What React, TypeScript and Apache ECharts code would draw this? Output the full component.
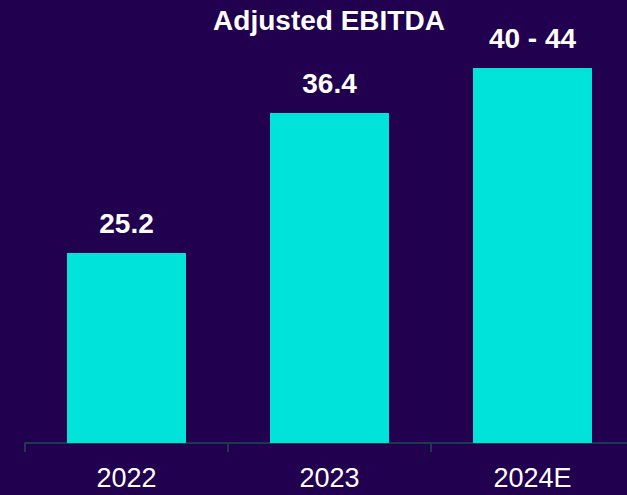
import React, { useEffect, useRef } from "react";
import * as echarts from "echarts";

const categories = ["2022", "2023", "2024E"];
const values = [25.2, 36.4, 40];
const valueLabels = ["25.2", "36.4", "40 - 44"];
const titleText = "Adjusted EBITDA";

export default function App() {
  const ref = useRef<HTMLDivElement>(null);
  useEffect(() => {
    if (!ref.current) return;
    const chart = echarts.init(ref.current, null, { renderer: "svg" });
    const font = "'Liberation Sans', Arial, sans-serif";
    chart.setOption({
      animation: false,
      backgroundColor: "#210050",
      graphic: [
        {
          type: "text",
          x: 329,
          y: 20,
          style: {
            text: titleText,
            fill: "#ffffff",
            font: `bold 28px ${font}`,
            textAlign: "center",
            textVerticalAlign: "middle",
          },
        },
      ],
      grid: { left: 25, right: 0, top: 43, bottom: 52, containLabel: false },
      xAxis: {
        type: "category",
        data: categories,
        axisLine: { show: true, lineStyle: { color: "#1c3a4e", width: 2 } },
        axisTick: { show: true, length: 9, lineStyle: { color: "#1c3a4e", width: 2 } },
        axisLabel: {
          color: "#ffffff",
          fontSize: 27,
          fontFamily: font,
          margin: 21,
        },
      },
      yAxis: {
        type: "value",
        min: 10,
        max: 42,
        show: false,
        splitLine: { show: false },
      },
      series: [
        {
          type: "bar",
          data: values,
          barWidth: 119,
          itemStyle: { color: "#00e3da" },
          label: {
            show: true,
            position: "top",
            distance: 16,
            color: "#ffffff",
            fontSize: 28,
            fontWeight: "bold",
            fontFamily: font,
            formatter: (p: any) => valueLabels[p.dataIndex],
          },
        },
      ],
    });
    return () => chart.dispose();
  }, []);
  return (
    <div
      style={{
        position: "fixed",
        left: 0,
        top: 0,
        width: 627,
        height: 495,
        overflow: "hidden",
      }}
    >
      <div ref={ref} style={{ width: 634, height: 495 }} />
    </div>
  );
}
